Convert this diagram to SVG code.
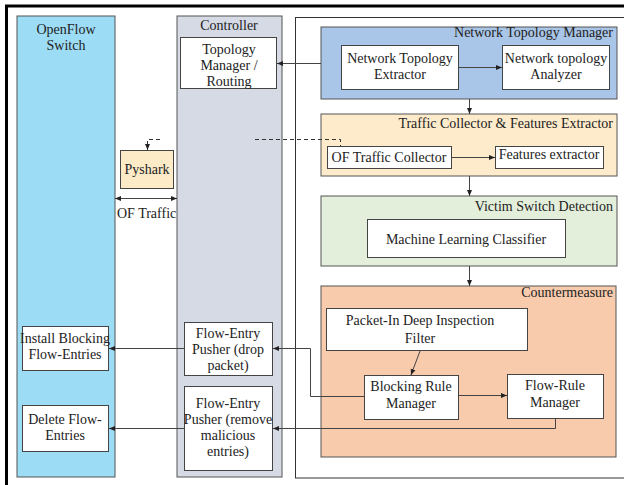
<svg xmlns="http://www.w3.org/2000/svg" width="624" height="485" viewBox="0 0 624 485">
<defs>
<marker id="ah" viewBox="0 0 6 6" refX="6" refY="3" markerWidth="6" markerHeight="6" orient="auto" markerUnits="userSpaceOnUse">
<path d="M0,0.5 L6,3 L0,5.5 Z" fill="#222"/>
</marker>
<marker id="ahs" viewBox="0 0 6 6" refX="0" refY="3" markerWidth="6" markerHeight="6" orient="auto" markerUnits="userSpaceOnUse">
<path d="M6,0.5 L0,3 L6,5.5 Z" fill="#222"/>
</marker>
</defs>
<style>
text{font-size:14px;fill:#222}
.c{text-anchor:middle}
.r{text-anchor:end}
.box{stroke:#444;stroke-width:1}
.lane{stroke:#555;stroke-width:1}
.ln{fill:none;stroke:#444;stroke-width:1}
.dash{fill:none;stroke:#333;stroke-width:1;stroke-dasharray:4,3}
</style>
<g font-family="Liberation Serif, serif">
<rect width="624" height="485" fill="#fff"/>
<rect x="6.5" y="6" width="640" height="500" fill="none" stroke="#000" stroke-width="3"/>

<g id="openflow-switch">
<rect class="lane" x="17" y="16" width="98" height="461" fill="#9DDCF5"/>
<text class="c" x="66" y="34" font-family="Liberation Serif">OpenFlow</text>
<text class="c" x="66" y="50" font-family="Liberation Serif">Switch</text>
</g>
<g id="controller">
<rect class="lane" x="177" y="16" width="105" height="461" fill="#D5DAE5"/>
<text class="c" x="229" y="30" font-family="Liberation Serif">Controller</text>
</g>
<g id="right-panel">
<rect x="295.5" y="17.5" width="340" height="460.5" fill="#fff" stroke="#333" stroke-width="1"/>
</g>

<g id="topology-manager-routing" font-family="Liberation Serif">
<rect class="box" x="180.5" y="37.5" width="96" height="51" fill="#fff"/>
<text class="c" x="229" y="54">Topology</text>
<text class="c" x="229" y="70">Manager /</text>
<text class="c" x="229" y="86">Routing</text>
</g>
<g id="pyshark" font-family="Liberation Serif">
<rect class="box" x="120.5" y="150.5" width="53" height="38" fill="#FDEBC8"/>
<text class="c" x="147" y="174">Pyshark</text>
</g>
<g id="of-traffic-label" font-family="Liberation Serif">
<text x="117" y="218">OF Traffic</text>
</g>
<g id="install-blocking" font-family="Liberation Serif">
<rect class="box" x="22.5" y="326.5" width="86" height="44" fill="#fff"/>
<text class="c" x="65" y="343">Install Blocking</text>
<text class="c" x="65" y="359">Flow-Entries</text>
</g>
<g id="delete-flow-entries" font-family="Liberation Serif">
<rect class="box" x="22.5" y="405.5" width="86" height="46" fill="#fff"/>
<text class="c" x="65" y="424">Delete Flow-</text>
<text class="c" x="65" y="440">Entries</text>
</g>
<g id="pusher-drop" font-family="Liberation Serif">
<rect class="box" x="184.5" y="322.5" width="88" height="53" fill="#fff"/>
<text class="c" x="228" y="338">Flow-Entry</text>
<text class="c" x="228" y="354">Pusher (drop</text>
<text class="c" x="228" y="370">packet)</text>
</g>
<g id="pusher-remove" font-family="Liberation Serif">
<rect class="box" x="184.5" y="386.5" width="88" height="84" fill="#fff"/>
<text class="c" x="228" y="408">Flow-Entry</text>
<text class="c" x="228" y="424">Pusher (remove</text>
<text class="c" x="228" y="440">malicious</text>
<text class="c" x="228" y="456">entries)</text>
</g>

<g id="network-topology-manager" font-family="Liberation Serif">
<rect class="lane" x="321" y="27" width="296" height="72" fill="#A9C5E7"/>
<text class="r" x="613" y="37">Network Topology Manager</text>
</g>
<g id="nt-extractor" font-family="Liberation Serif">
<rect class="box" x="341.5" y="45.5" width="117" height="44" fill="#fff"/>
<text class="c" x="400" y="63">Network Topology</text>
<text class="c" x="400" y="79">Extractor</text>
</g>
<g id="nt-analyzer" font-family="Liberation Serif">
<rect class="box" x="502.5" y="45.5" width="107" height="44" fill="#fff"/>
<text class="c" x="556" y="63">Network topology</text>
<text class="c" x="556" y="79">Analyzer</text>
</g>
<g id="traffic-collector-features-extractor" font-family="Liberation Serif">
<rect class="lane" x="321" y="114" width="296" height="62" fill="#FDEBCB"/>
<text class="r" x="613" y="128">Traffic Collector &amp; Features Extractor</text>
</g>
<g id="of-traffic-collector" font-family="Liberation Serif">
<rect class="box" x="327.5" y="146.5" width="124" height="22" fill="#fff"/>
<text class="c" x="389" y="162">OF Traffic Collector</text>
</g>
<g id="features-extractor" font-family="Liberation Serif">
<rect class="box" x="495.5" y="146.5" width="108" height="22" fill="#fff"/>
<text class="c" x="549" y="159">Features extractor</text>
</g>
<g id="victim-switch-detection" font-family="Liberation Serif">
<rect class="lane" x="321" y="196" width="296" height="70" fill="#E3EFDB"/>
<text class="r" x="613" y="211">Victim Switch Detection</text>
</g>
<g id="ml-classifier" font-family="Liberation Serif">
<rect class="box" x="367.5" y="219.5" width="198" height="38" fill="#fff"/>
<text class="c" x="466" y="244">Machine Learning Classifier</text>
</g>
<g id="countermeasure" font-family="Liberation Serif">
<rect class="lane" x="321" y="286" width="295" height="171" fill="#F8CBAD"/>
<text class="r" x="613" y="297">Countermeasure</text>
</g>
<g id="packet-in-filter" font-family="Liberation Serif">
<rect class="box" x="326.5" y="308.5" width="201" height="42" fill="#fff"/>
<text class="c" x="420" y="325">Packet-In Deep Inspection</text>
<text class="c" x="420" y="343">Filter</text>
</g>
<g id="blocking-rule-manager" font-family="Liberation Serif">
<rect class="box" x="364.5" y="375.5" width="94" height="44" fill="#fff"/>
<text class="c" x="411" y="391">Blocking Rule</text>
<text class="c" x="411" y="408">Manager</text>
</g>
<g id="flow-rule-manager" font-family="Liberation Serif">
<rect class="box" x="507.5" y="374.5" width="96" height="44" fill="#fff"/>
<text class="c" x="555" y="390">Flow-Rule</text>
<text class="c" x="555" y="407">Manager</text>
</g>

<g id="connectors">
<line class="ln" x1="321" y1="63.5" x2="277" y2="63.5" marker-end="url(#ah)"/>
<line class="ln" x1="458" y1="67.5" x2="502" y2="67.5" marker-end="url(#ah)"/>
<line class="ln" x1="469.5" y1="99" x2="469.5" y2="114" marker-end="url(#ah)"/>
<line class="ln" x1="451" y1="157.5" x2="495" y2="157.5" marker-end="url(#ah)"/>
<line class="ln" x1="469.5" y1="176" x2="469.5" y2="196" marker-end="url(#ah)"/>
<line class="ln" x1="469.5" y1="266" x2="469.5" y2="286" marker-end="url(#ah)"/>
<path class="dash" d="M255,139.5 H340.5 V146"/>
<path class="dash" d="M160,139.5 H147.5 V145"/>
<line class="ln" x1="147.5" y1="144" x2="147.5" y2="150" marker-end="url(#ah)"/>
<line class="ln" x1="115" y1="198.5" x2="177" y2="198.5" marker-start="url(#ahs)" marker-end="url(#ah)"/>
<line class="ln" x1="420" y1="351" x2="411" y2="375" marker-end="url(#ah)"/>
<line class="ln" x1="458" y1="395.5" x2="507" y2="395.5" marker-end="url(#ah)"/>
<path class="ln" d="M364,396.5 H310.5 V348.5 H273" marker-end="url(#ah)"/>
<path class="ln" d="M555.5,419 V428.5 H273" marker-end="url(#ah)"/>
<line class="ln" x1="184" y1="348.5" x2="109" y2="348.5" marker-end="url(#ah)"/>
<line class="ln" x1="184" y1="428.5" x2="109" y2="428.5" marker-end="url(#ah)"/>
</g>
</g>
</svg>
